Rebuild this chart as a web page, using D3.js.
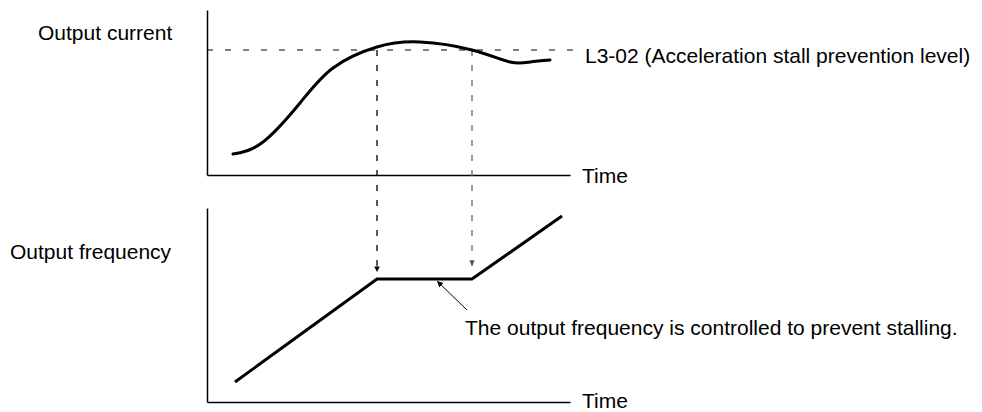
<!DOCTYPE html>
<html><head><meta charset="utf-8">
<script src="https://cdn.jsdelivr.net/npm/d3@7"></script>
<style>
html,body{margin:0;padding:0;background:#fff;}
text{font-family:"Liberation Sans",Arial,Helvetica,sans-serif;fill:#000;}
</style></head>
<body>
<svg id="chart" width="982" height="412"></svg>
<script>
// ---- data ----
const currentTime  = [26, 56, 93, 126, 170, 213, 265, 303, 323, 343];
const currentValue = [21, 33, 72, 107, 128, 133, 125, 113, 113, 115];
const freqTime  = [28, 170, 265, 355];
const freqValue = [20, 123, 123, 186];
const stallLevel = 125;
const stallTimes = [170, 265];
const panelLabels = ["Output current", "Output frequency"];
const axisLabel = "Time";
const levelLabel = "L3-02 (Acceleration stall prevention level)";
const noteLabel = "The output frequency is controlled to prevent stalling.";

const svg = d3.select("#chart");
const FS = 21;

const x = d3.scaleLinear().domain([0, 363]).range([207, 570]);
const yTop = d3.scaleLinear().domain([0, 165]).range([175, 10]);
const yBot = d3.scaleLinear().domain([0, 194]).range([402, 208]);

// axes (domain lines only)
function drawAxes(y) {
  svg.append("g").attr("transform", `translate(${x(0)},0)`)
    .call(d3.axisLeft(y).tickValues([]).tickSizeOuter(0))
    .select(".domain").attr("stroke", "#000").attr("stroke-width", 1.5);
  svg.append("g").attr("transform", `translate(0,${y(0)})`)
    .call(d3.axisBottom(x).tickValues([]).tickSizeOuter(0))
    .select(".domain").attr("stroke", "#000").attr("stroke-width", 1.5);
}
drawAxes(yTop);
drawAxes(yBot);

// markers
const defs = svg.append("defs");
function marker(id, color, len, wid) {
  defs.append("marker").attr("id", id).attr("viewBox", "0 0 10 10")
    .attr("refX", 10).attr("refY", 5).attr("markerWidth", len).attr("markerHeight", wid)
    .attr("markerUnits", "userSpaceOnUse").attr("orient", "auto")
    .append("path").attr("d", "M0,0 L10,5 L0,10 Z").attr("fill", color);
}
marker("ah", "#000", 14, 5.5);
marker("ahg", "#555", 14, 5.5);
marker("ahs", "#000", 12, 6);

// stall level dashed line
svg.append("line")
  .attr("x1", x(0)).attr("x2", x(368))
  .attr("y1", yTop(stallLevel)).attr("y2", yTop(stallLevel))
  .attr("stroke", "#000").attr("stroke-width", 1.2)
  .attr("stroke-dasharray", "6,12");

// vertical dashed arrows
stallTimes.forEach((t, i) => {
  svg.append("line")
    .attr("x1", x(t)).attr("x2", x(t))
    .attr("y1", yTop(stallLevel)).attr("y2", yBot(freqValue[1]) - (i === 0 ? 7 : 13))
    .attr("stroke", i === 0 ? "#000" : "#666").attr("stroke-width", 1.3)
    .attr("stroke-dasharray", "6,9")
    .attr("marker-end", i === 0 ? "url(#ah)" : "url(#ahg)");
});

// current curve
const curLine = d3.line().x(d => x(d[0])).y(d => yTop(d[1])).curve(d3.curveNatural);
svg.append("path").datum(d3.zip(currentTime, currentValue))
  .attr("d", curLine).attr("fill", "none").attr("stroke", "#000").attr("stroke-width", 3)
  .attr("stroke-linecap", "round");

// frequency line
const fLine = d3.line().x(d => x(d[0])).y(d => yBot(d[1]));
svg.append("path").datum(d3.zip(freqTime, freqValue))
  .attr("d", fLine).attr("fill", "none").attr("stroke", "#000").attr("stroke-width", 3)
  .attr("stroke-linejoin", "miter");

// annotation arrow
svg.append("line")
  .attr("x1", x(260)).attr("y1", yBot(freqValue[1]) + 31)
  .attr("x2", x(230)).attr("y2", yBot(freqValue[1]) + 2)
  .attr("stroke", "#000").attr("stroke-width", 1)
  .attr("marker-end", "url(#ahs)");

// texts
svg.append("text").attr("x", 38).attr("y", 40).attr("font-size", FS).text(panelLabels[0]);
svg.append("text").attr("x", 10).attr("y", 259).attr("font-size", FS).text(panelLabels[1]);
svg.append("text").attr("x", 582).attr("y", yTop(0) + 8).attr("font-size", FS).text(axisLabel);
svg.append("text").attr("x", 582).attr("y", yBot(0) + 6).attr("font-size", FS).text(axisLabel);
svg.append("text").attr("x", 585).attr("y", 63).attr("font-size", FS).text(levelLabel);
svg.append("text").attr("x", 465).attr("y", 335).attr("font-size", FS).text(noteLabel);
</script>
</body></html>
